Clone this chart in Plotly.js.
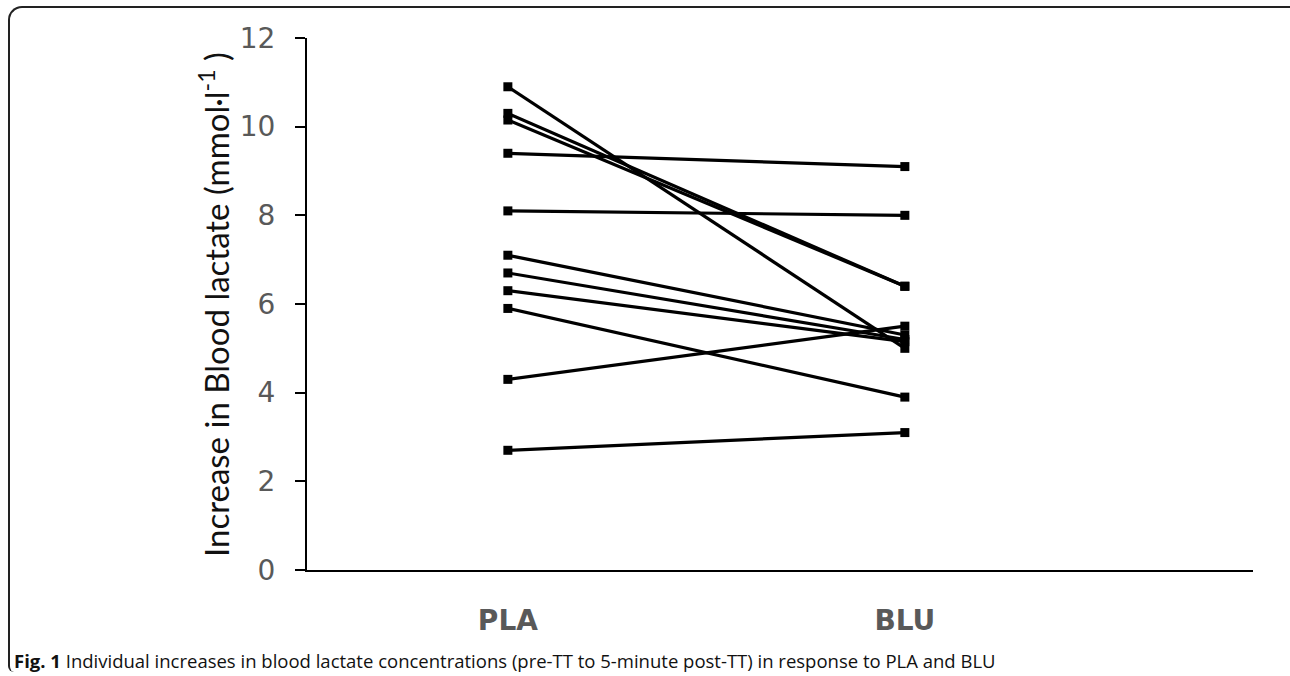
<!DOCTYPE html>
<html>
<head>
<meta charset="utf-8">
<script src="https://cdn.plot.ly/plotly-3.0.1.min.js"></script>
<style>
  html, body { margin: 0; padding: 0; background: #fff; }
  #wrap { position: relative; width: 1290px; height: 676px; overflow: hidden; }
  #frame { position: absolute; left: 8px; top: 6px; width: 1300px; height: 664px;
           border-top: 2px solid #222; border-left: 2px solid #222;
           border-top-left-radius: 14px; border-bottom-left-radius: 6px; pointer-events: none; }
  #chart { position: absolute; left: 0; top: 0; width: 1290px; height: 676px; }
</style>
</head>
<body>
<div id="wrap">
  <div id="chart"></div>
  <div id="frame"></div>
</div>
<script>
const conditions = ["PLA", "BLU"];
const plaValues = [10.9, 10.3, 10.15, 9.4, 8.1, 7.1, 6.7, 6.3, 5.9, 4.3, 2.7];
const bluValues = [5.0, 6.4, 6.4, 9.1, 8.0, 5.3, 5.2, 5.15, 3.9, 5.5, 3.1];
const yTicks = [0, 2, 4, 6, 8, 10, 12];

const traces = plaValues.map((p, i) => ({
  type: "scatter",
  mode: "lines+markers",
  x: [0, 1],
  y: [p, bluValues[i]],
  line: { color: "#000", width: 3.2 },
  marker: { symbol: "square", size: 9, color: "#000" },
  showlegend: false,
  hoverinfo: "skip"
}));

const layout = {
  width: 1290, height: 676,
  margin: { l: 307, r: 37, t: 38, b: 106 },
  paper_bgcolor: "rgba(0,0,0,0)",
  plot_bgcolor: "rgba(0,0,0,0)",
  showlegend: false,
  xaxis: {
    range: [-0.506, 1.877],
    tickvals: [0, 1],
    ticktext: conditions,
    showgrid: false, zeroline: false,
    showline: true, linecolor: "#000", linewidth: 2,
    ticks: "",
    tickfont: { family: "'DejaVu Sans', sans-serif", size: 28, color: "#595959", weight: "bold" },
    ticklabelstandoff: 24
  },
  yaxis: {
    range: [0, 12],
    tickvals: yTicks,
    showgrid: false, zeroline: false,
    showline: true, linecolor: "#000", linewidth: 2,
    ticks: "outside", ticklen: 10, tickwidth: 2, tickcolor: "#000",
    tickfont: { family: "'DejaVu Sans', sans-serif", size: 28, color: "#595959" },
    ticklabelstandoff: 14
  },
  annotations: [
    {
      xref: "paper", yref: "paper",
      x: (214 - 307) / 946, y: (570 - 305) / 532,
      xanchor: "center", yanchor: "middle",
      textangle: -90, showarrow: false,
      text: "Increase in Blood lactate (mmol·l<sup>-1</sup> )",
      font: { family: "Lato, 'Open Sans', sans-serif", size: 33, color: "#111" }
    },
    {
      xref: "paper", yref: "paper",
      x: (12 - 307) / 946, y: (570 - 660) / 532,
      xanchor: "left", yanchor: "middle",
      showarrow: false, align: "left",
      text: "<b>Fig. 1</b> Individual increases in blood lactate concentrations (pre-TT to 5-minute post-TT) in response to PLA and BLU",
      font: { family: "'Open Sans', 'Noto Sans', sans-serif", size: 18.5, color: "#111" }
    }
  ]
};

Plotly.newPlot("chart", traces, layout, { displayModeBar: false, staticPlot: true });
</script>
</body>
</html>
